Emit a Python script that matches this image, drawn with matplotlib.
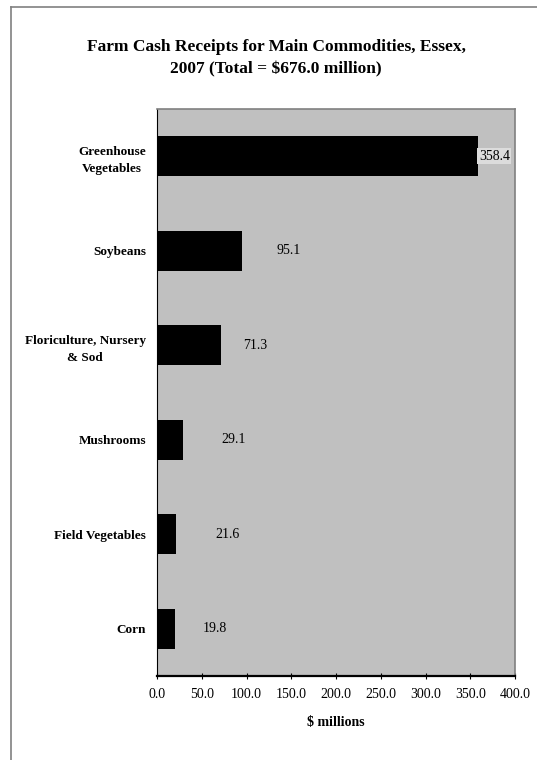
import matplotlib
matplotlib.use("Agg")
import matplotlib.pyplot as plt
from matplotlib.lines import Line2D

plt.rcParams["font.family"] = ["Liberation Serif", "DejaVu Serif"]

# data, top to bottom as drawn
commodities = ["Greenhouse\nVegetables", "Soybeans", "Floriculture, Nursery\n& Sod",
               "Mushrooms", "Field Vegetables", "Corn"]
receipts = [358.4, 95.1, 71.3, 29.1, 21.6, 19.8]
xticks = [0, 50, 100, 150, 200, 250, 300, 350, 400]

# label offsets (pixels right of bar end), placed by hand as in the source
label_dx = [1, 34, 22, 38, 39, 28]

fig = plt.figure(figsize=(5.37, 7.6), dpi=100)
W, H = 537, 760
ax = fig.add_axes([157 / W, 1 - 676 / H, (515 - 157) / W, (676 - 109) / H])
ax.set_facecolor("#c0c0c0")

ypos = list(range(len(commodities)))[::-1]
ax.barh(ypos, receipts, height=0.42, color="black")
ax.set_xlim(0, 400)
ax.set_ylim(-0.5, len(commodities) - 0.5)

for y, v, dx in zip(ypos, receipts, label_dx):
    kw = {}
    if dx < 5:
        kw["bbox"] = dict(boxstyle="square,pad=0.1", fc="#dcdcdc", ec="none")
    ax.annotate(f"{v:.1f}", xy=(v, y), xytext=(dx * 0.72, 0), textcoords="offset points",
                ha="left", va="center", fontsize=10, **kw)

ax.set_yticks(ypos)
ax.set_yticklabels(commodities, fontsize=9.5, fontweight="bold", multialignment="center",
                   linespacing=1.6)
ax.tick_params(axis="y", length=0, pad=8)
ax.set_xticks(xticks)
ax.set_xticklabels([f"{t:.1f}" for t in xticks], fontsize=10)
ax.tick_params(axis="x", direction="inout", length=5, width=0.8, pad=6)
ax.set_xlabel("$ millions", fontsize=10, fontweight="bold", labelpad=11)

for s in ["top", "right"]:
    ax.spines[s].set_color("#808080")
    ax.spines[s].set_linewidth(1.2)
ax.spines["left"].set_color("black")
ax.spines["bottom"].set_color("black")
ax.spines["bottom"].set_linewidth(1.6)

fig.text(276 / W, 1 - 58 / H,
         "Farm Cash Receipts for Main Commodities, Essex,\n2007 (Total = $676.0 million)",
         ha="center", va="center", fontsize=12.5, fontweight="bold", linespacing=1.55)

# outer chart frame
fig.add_artist(Line2D([11 / W, 1], [1 - 7 / H, 1 - 7 / H], color="#808080", lw=1.2,
                      transform=fig.transFigure))
fig.add_artist(Line2D([11 / W, 11 / W], [1 - 7 / H, 0], color="#808080", lw=1.2,
                      transform=fig.transFigure))

fig.savefig("out.png", dpi=100, facecolor="white")
